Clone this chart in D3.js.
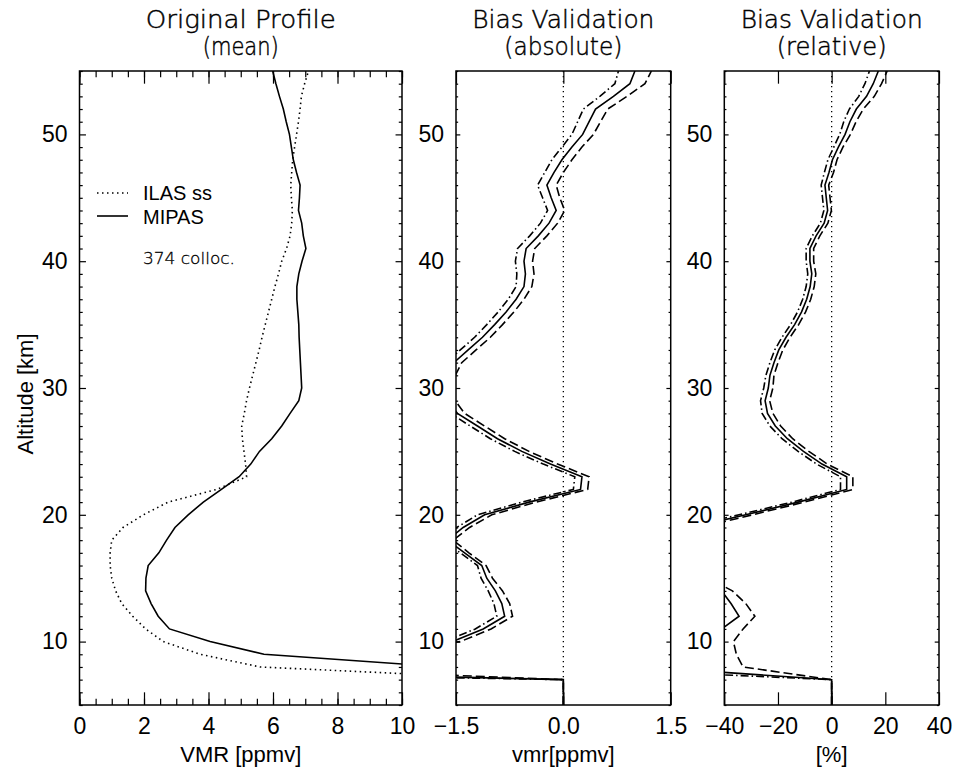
<!DOCTYPE html>
<html>
<head>
<meta charset="utf-8">
<script src="https://cdn.jsdelivr.net/npm/d3@7"></script>
<style>
body { margin: 0; background: #fff; }
text { font-family: "Liberation Sans", Arial, sans-serif; fill: #000; }
.title { font-family: "DejaVu Sans", sans-serif; font-weight: 200; font-size: 24px; stroke: #000; stroke-width: 0.45; }
.note { font-family: "DejaVu Sans", sans-serif; font-weight: 200; font-size: 16px; stroke: #000; stroke-width: 0.3; }
</style>
</head>
<body>
<svg width="953" height="767"></svg>
<script>
// Altitude grid, km
var altitude = [5,6,7,8,9,10,11,12,13,14,15,16,17,18,19,20,21,22,23,24,25,26,27,28,29,30,
  31,32,33,34,35,36,37,38,39,40,41,42,43,44,45,46,47,48,49,50,51,52,53,54,55];

// Mean profiles, ppmv
var ilas = [null,null,14,5.6,3.74,2.6,2.05,1.65,1.31,1.12,1.0,0.95,0.95,1.0,1.35,1.98,2.75,4.25,5.18,5.15,
  5.1,5.05,5.03,5.11,5.18,5.27,5.37,5.47,5.57,5.66,5.76,5.86,5.96,6.06,6.17,6.27,6.42,6.53,6.58,6.6,
  6.57,6.55,6.58,6.61,6.67,6.73,6.79,6.84,6.88,6.98,7.1];
var mipas = [null,null,null,11.3,5.72,4.05,2.79,2.44,2.22,2.05,2.06,2.13,2.46,2.7,2.96,3.37,3.84,4.4,4.95,5.31,
  5.58,5.96,6.27,6.53,6.8,6.89,6.87,6.85,6.83,6.81,6.8,6.77,6.74,6.74,6.8,6.9,7.02,6.94,6.89,6.79,
  6.82,6.84,6.73,6.63,6.57,6.51,6.41,6.32,6.2,6.09,5.99];

// Absolute bias, ppmv, and its error
var absMean = [0,0,0,-7.5,-5.0,-1.55,-1.12,-0.82,-0.86,-0.95,-1.07,-1.14,-1.38,-1.62,-1.4,-1.1,-0.48,0.24,0.26,-0.18,
  -0.58,-0.92,-1.2,-1.48,-1.62,-1.66,-1.62,-1.53,-1.33,-1.13,-0.96,-0.8,-0.66,-0.55,-0.53,-0.55,-0.52,-0.35,-0.2,-0.1,
  -0.17,-0.23,-0.13,-0.02,0.12,0.27,0.36,0.45,0.7,0.93,1.0];
var absErr = [0,0,0,3,2,0.11,0.11,0.11,0.11,0.1,0.08,0.06,0.06,0.08,0.09,0.1,0.1,0.1,0.1,0.1,
  0.1,0.1,0.1,0.1,0.11,0.11,0.11,0.11,0.11,0.11,0.11,0.11,0.11,0.11,0.12,0.12,0.12,0.12,0.12,0.12,
  0.12,0.13,0.13,0.14,0.14,0.15,0.16,0.17,0.19,0.21,0.23];

// Relative bias, %, and its error
var relMean = [0,0,0,-70,-60,-50,-41,-34.5,-37.5,-41,-50,-56,-58,-60,-52,-32,-12.5,5.6,5.6,-3.6,
  -10.5,-16.5,-21,-23.9,-24.8,-23.6,-23,-21.5,-19.7,-17,-13.8,-11.2,-9.3,-8,-7.4,-8.1,-8.1,-5.8,-2.8,-1.5,
  -2,-2.5,-1,0.3,2.5,5,6.8,9.2,13,15.5,17.4];
var relErr = [0,0,0,37,24.5,13.4,8,5.9,5.5,4,4,4,4,4,3,2.5,2.3,2.3,2.3,2,
  2,2,2,2,1.7,1.7,1.5,1.5,1.5,1.5,1.5,1.5,1.5,1.5,1.5,1.4,1.4,1.4,1.4,1.4,
  1.4,1.4,1.7,1.7,1.7,2,2.3,2.6,2.9,3.1,3.3];

// Tick values
var altTicks = [10,20,30,40,50];
var vmrTicks = [0,2,4,6,8,10];
var absTicks = [-1.5,0,1.5];
var relTicks = [-40,-20,0,20,40];

var svg = d3.select('svg');
var plotTop = 71, plotBottom = 705;
var y = d3.scaleLinear().domain([5,55]).range([plotBottom, plotTop]);
var xTick = 0.02 * (plotBottom - plotTop);

var panels = [
  {left:79.5, right:402, domain:[0,10], ticks:vmrTicks, minor:d3.range(0,10.01,0.5), fmt:d3.format('d'),
   title:['Original Profile','(mean)'], tw:[190,76], xlabel:'VMR [ppmv]'},
  {left:456, right:670.7, domain:[-1.5,1.5], ticks:absTicks, minor:[], fmt:d3.format('.1f'),
   title:['Bias Validation','(absolute)'], tw:[182,118], xlabel:'vmr[ppmv]'},
  {left:724.3, right:939, domain:[-40,40], ticks:relTicks, minor:[], fmt:d3.format('d'),
   title:['Bias Validation','(relative)'], tw:[182,110], xlabel:'[%]'}
];

var dash = { solid:null, dashed:'9,4', dashdot:'8,3,1.5,3', dotted:'1.5,3.5' };

panels.forEach(function(p, i) {
  var x = d3.scaleLinear().domain(p.domain).range([p.left, p.right]);
  p.x = x;
  var g = svg.append('g');
  var w = p.right - p.left;
  var yTick = 0.02 * w;

  // clip
  svg.append('clipPath').attr('id', 'clip' + i)
    .append('rect').attr('x', p.left).attr('y', plotTop)
    .attr('width', w).attr('height', plotBottom - plotTop);

  // x axes (ticks point inwards)
  g.append('g').attr('transform', 'translate(0,' + plotBottom + ')')
    .call(d3.axisBottom(x).tickValues(p.ticks).tickFormat(p.fmt).tickSize(-xTick).tickPadding(13));
  g.append('g').attr('transform', 'translate(0,' + plotTop + ')')
    .call(d3.axisTop(x).tickValues(p.ticks).tickFormat('').tickSize(-xTick));
  if (p.minor.length) {
    g.append('g').attr('transform', 'translate(0,' + plotBottom + ')')
      .call(d3.axisBottom(x).tickValues(p.minor).tickFormat('').tickSize(-xTick / 2));
    g.append('g').attr('transform', 'translate(0,' + plotTop + ')')
      .call(d3.axisTop(x).tickValues(p.minor).tickFormat('').tickSize(-xTick / 2));
  }

  // y axes
  g.append('g').attr('transform', 'translate(' + p.left + ',0)')
    .call(d3.axisLeft(y).tickValues(altTicks).tickFormat(d3.format('d')).tickSize(-yTick).tickPadding(12));
  g.append('g').attr('transform', 'translate(' + p.right + ',0)')
    .call(d3.axisRight(y).tickValues(altTicks).tickFormat('').tickSize(-yTick));
  var minorAlt = altitude.filter(function(a) { return a % 10 != 0; });
  g.append('g').attr('transform', 'translate(' + p.left + ',0)')
    .call(d3.axisLeft(y).tickValues(minorAlt).tickFormat('').tickSize(-yTick / 2));
  g.append('g').attr('transform', 'translate(' + p.right + ',0)')
    .call(d3.axisRight(y).tickValues(minorAlt).tickFormat('').tickSize(-yTick / 2));

  g.selectAll('.domain').remove();
  g.selectAll('.tick line').attr('stroke', '#000').attr('stroke-width', 1.2);
  g.selectAll('.tick text').attr('font-size', 23).attr('font-family', '"Liberation Sans", Arial, sans-serif');

  // frame
  g.append('rect').attr('x', p.left).attr('y', plotTop).attr('width', w).attr('height', plotBottom - plotTop)
    .attr('fill', 'none').attr('stroke', '#000').attr('stroke-width', 1.5);

  // titles
  var cx = (p.left + p.right) / 2;
  g.append('text').attr('class', 'title').attr('x', cx).attr('y', 28).attr('text-anchor', 'middle')
    .attr('textLength', p.tw[0]).attr('lengthAdjust', 'spacingAndGlyphs').text(p.title[0]);
  g.append('text').attr('class', 'title').attr('x', cx).attr('y', 55).attr('text-anchor', 'middle')
    .attr('textLength', p.tw[1]).attr('lengthAdjust', 'spacingAndGlyphs').text(p.title[1]);
  g.append('text').attr('x', cx).attr('y', 762).attr('text-anchor', 'middle').attr('font-size', 22).text(p.xlabel);
});

svg.append('text').attr('transform', 'translate(33,394) rotate(-90)')
  .attr('text-anchor', 'middle').attr('font-size', 22).text('Altitude [km]');

function drawLine(p, clipId, xs, style) {
  var line = d3.line()
    .defined(function(d) { return d[0] != null; })
    .x(function(d) { return p.x(d[0]); })
    .y(function(d) { return y(d[1]); });
  svg.append('path')
    .datum(altitude.map(function(a, k) { return [xs[k], a]; }))
    .attr('clip-path', 'url(#' + clipId + ')')
    .attr('d', line)
    .attr('fill', 'none')
    .attr('stroke', '#000')
    .attr('stroke-width', 1.6)
    .attr('stroke-dasharray', dash[style]);
}

// Panel 1: mean profiles
drawLine(panels[0], 'clip0', ilas, 'dotted');
drawLine(panels[0], 'clip0', mipas, 'solid');

// Panels 2 and 3: zero line, bias and error bounds
[[panels[1], 'clip1', absMean, absErr], [panels[2], 'clip2', relMean, relErr]].forEach(function(s) {
  var p = s[0];
  svg.append('line').attr('x1', p.x(0)).attr('x2', p.x(0)).attr('y1', plotTop).attr('y2', plotBottom)
    .attr('stroke', '#000').attr('stroke-width', 1.3).attr('stroke-dasharray', '1.3,3.7');
  var upper = s[2].map(function(v, k) { return v + s[3][k]; });
  var lower = s[2].map(function(v, k) { return v - s[3][k]; });
  drawLine(p, s[1], lower, 'dashdot');
  drawLine(p, s[1], upper, 'dashed');
  drawLine(p, s[1], s[2], 'solid');
});

// Legend
var leg = svg.append('g');
leg.append('line').attr('x1', 97).attr('x2', 128).attr('y1', 193).attr('y2', 193)
  .attr('stroke', '#000').attr('stroke-width', 1.6).attr('stroke-dasharray', dash.dotted);
leg.append('line').attr('x1', 97).attr('x2', 128).attr('y1', 216).attr('y2', 216)
  .attr('stroke', '#000').attr('stroke-width', 1.6);
leg.append('text').attr('x', 143).attr('y', 200).attr('font-size', 20).text('ILAS ss');
leg.append('text').attr('x', 143).attr('y', 224).attr('font-size', 20).text('MIPAS');
leg.append('text').attr('class', 'note').attr('x', 143).attr('y', 264)
  .attr('textLength', 92).attr('lengthAdjust', 'spacingAndGlyphs').text('374 colloc.');
</script>
</body>
</html>
